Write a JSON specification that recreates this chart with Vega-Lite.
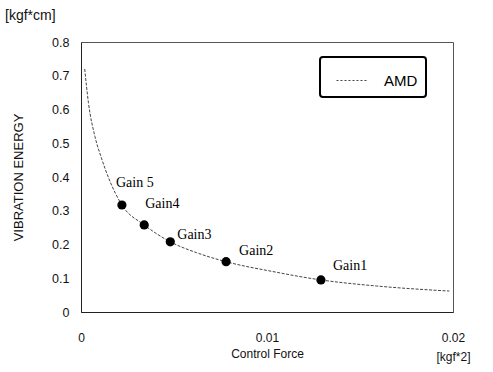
{
  "$schema": "https://vega.github.io/schema/vega-lite/v6.json",
  "width": 372,
  "height": 270,
  "autosize": {"type": "none"},
  "padding": {"left": 81, "top": 42, "right": 40, "bottom": 60},
  "background": "white",
  "title": {
    "text": "[kgf*cm]",
    "anchor": "start",
    "frame": "group",
    "dx": -76,
    "offset": 13,
    "font": "Liberation Sans",
    "fontSize": 14,
    "fontWeight": "normal",
    "color": "#111"
  },
  "config": {
    "view": {"stroke": "#555", "strokeWidth": 1},
    "legend": {"strokeWidth": 2},
    "axis": {
      "grid": false,
      "domain": true,
      "domainColor": "#222",
      "ticks": false,
      "labelFont": "Liberation Sans",
      "labelFontSize": 12,
      "labelColor": "#111",
      "labelOverlap": false,
      "labelFlush": false,
      "titleFont": "Liberation Sans",
      "titleFontSize": 12,
      "titleFontWeight": "normal",
      "titleColor": "#111"
    }
  },
  "datasets": {
    "curve": [
      {"force": 0.0002, "energy": 0.72, "series": "AMD"},
      {"force": 0.0004, "energy": 0.62, "series": "AMD"},
      {"force": 0.00075, "energy": 0.52, "series": "AMD"},
      {"force": 0.0011, "energy": 0.456, "series": "AMD"},
      {"force": 0.0015, "energy": 0.395, "series": "AMD"},
      {"force": 0.0022, "energy": 0.317, "series": "AMD"},
      {"force": 0.0034, "energy": 0.258, "series": "AMD"},
      {"force": 0.0048, "energy": 0.208, "series": "AMD"},
      {"force": 0.0062, "energy": 0.176, "series": "AMD"},
      {"force": 0.0078, "energy": 0.149, "series": "AMD"},
      {"force": 0.0103, "energy": 0.12, "series": "AMD"},
      {"force": 0.0129, "energy": 0.095, "series": "AMD"},
      {"force": 0.0159, "energy": 0.077, "series": "AMD"},
      {"force": 0.0198, "energy": 0.062, "series": "AMD"}
    ],
    "gains": [
      {"force": 0.0022, "energy": 0.317, "label": "Gain 5"},
      {"force": 0.0034, "energy": 0.258, "label": "Gain4"},
      {"force": 0.0048, "energy": 0.208, "label": "Gain3"},
      {"force": 0.0078, "energy": 0.149, "label": "Gain2"},
      {"force": 0.0129, "energy": 0.095, "label": "Gain1"}
    ]
  },
  "layer": [
    {
      "data": {"name": "curve"},
      "mark": {"type": "line", "strokeWidth": 1, "strokeDash": [3, 1.5], "interpolate": "monotone", "clip": true},
      "encoding": {
        "x": {
          "field": "force", "type": "quantitative",
          "scale": {"domain": [0, 0.02]},
          "axis": {
            "title": "Control Force",
            "values": [0, 0.01, 0.02],
            "format": "~g",
            "labelExpr": "datum.value > 0.015 ? ['0.02', '[kgf*2]'] : datum.label",
            "labelPadding": 20,
            "labelLineHeight": 19,
            "labelBaseline": "top",
            "labelFontSize": 12,
            "labelOverlap": false,
            "titleY": 36,
            "titleBaseline": "top"
          }
        },
        "y": {
          "field": "energy", "type": "quantitative",
          "scale": {"domain": [0, 0.8]},
          "axis": {
            "title": "VIBRATION ENERGY",
            "values": [0, 0.1, 0.2, 0.3, 0.4, 0.5, 0.6, 0.7, 0.8],
            "tickCount": 12,
            "format": "~g",
            "labelOverlap": false,
            "labelFontSize": 12.5,
            "labelPadding": 12,
            "titlePadding": 26,
            "titleFontSize": 13
          }
        },
        "color": {
          "field": "series", "type": "nominal",
          "scale": {"range": ["#444"]},
          "legend": {
            "title": null,
            "orient": "none",
            "legendX": 239,
            "legendY": 15,
            "symbolType": "stroke",
            "symbolSize": 900,
            "symbolOffset": 8,
            "symbolStrokeWidth": 1,
            "symbolDash": [2, 2],
            "labelFont": "Liberation Sans",
            "labelFontSize": 15,
            "labelColor": "#000",
            "labelOffset": 17,
            "labelExpr": "datum.label + '\u00a0\u00a0\u00a0\u00a0\u00a0'",
            "strokeColor": "#000",
            "cornerRadius": 3,
            "padding": 8,
            "fillColor": "white"
          }
        }
      }
    },
    {
      "data": {"name": "gains"},
      "mark": {"type": "point", "filled": true, "size": 85, "color": "#000", "opacity": 1},
      "encoding": {
        "x": {"field": "force", "type": "quantitative"},
        "y": {"field": "energy", "type": "quantitative"}
      }
    },
    {
      "data": {"name": "gains"},
      "transform": [{"filter": "datum.label == 'Gain 5'"}],
      "mark": {"type": "text", "font": "Liberation Serif", "fontSize": 14, "align": "left", "dx": -6, "dy": -22, "color": "#000"},
      "encoding": {
        "x": {"field": "force", "type": "quantitative"},
        "y": {"field": "energy", "type": "quantitative"},
        "text": {"field": "label"}
      }
    },
    {
      "data": {"name": "gains"},
      "transform": [{"filter": "datum.label == 'Gain4'"}],
      "mark": {"type": "text", "font": "Liberation Serif", "fontSize": 14, "align": "left", "dx": 1, "dy": -21, "color": "#000"},
      "encoding": {
        "x": {"field": "force", "type": "quantitative"},
        "y": {"field": "energy", "type": "quantitative"},
        "text": {"field": "label"}
      }
    },
    {
      "data": {"name": "gains"},
      "transform": [{"filter": "datum.label == 'Gain3'"}],
      "mark": {"type": "text", "font": "Liberation Serif", "fontSize": 14, "align": "left", "dx": 7, "dy": -7, "color": "#000"},
      "encoding": {
        "x": {"field": "force", "type": "quantitative"},
        "y": {"field": "energy", "type": "quantitative"},
        "text": {"field": "label"}
      }
    },
    {
      "data": {"name": "gains"},
      "transform": [{"filter": "datum.label == 'Gain2'"}],
      "mark": {"type": "text", "font": "Liberation Serif", "fontSize": 14, "align": "left", "dx": 13, "dy": -11, "color": "#000"},
      "encoding": {
        "x": {"field": "force", "type": "quantitative"},
        "y": {"field": "energy", "type": "quantitative"},
        "text": {"field": "label"}
      }
    },
    {
      "data": {"name": "gains"},
      "transform": [{"filter": "datum.label == 'Gain1'"}],
      "mark": {"type": "text", "font": "Liberation Serif", "fontSize": 14, "align": "left", "dx": 12, "dy": -14, "color": "#000"},
      "encoding": {
        "x": {"field": "force", "type": "quantitative"},
        "y": {"field": "energy", "type": "quantitative"},
        "text": {"field": "label"}
      }
    }
  ]
}
